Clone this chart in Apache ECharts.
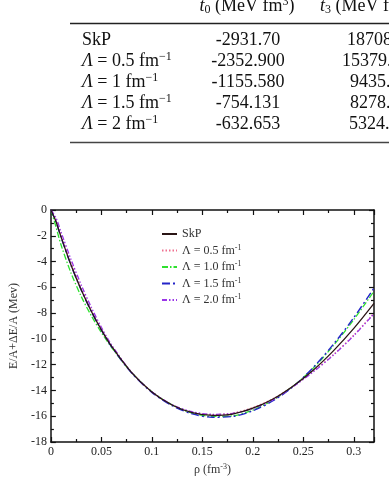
<!DOCTYPE html>
<html lang="en">
<head>
    <meta charset="UTF-8">
    <title>SkP energy per particle</title>
    <style>
        html, body { margin: 0; padding: 0; background: #fff; }
        #main { width: 389px; height: 477px; }
    </style>
</head>
<body>
<div id="main"></div>
<script src="https://cdn.jsdelivr.net/npm/echarts@6/dist/echarts.min.js"></script>
<script>
    // table values
    const rowLabels = ['SkP', '0.5', '1', '1.5', '2'];
    const t0Vals = ['-2931.70', '-2352.900', '-1155.580', '-754.131', '-632.653'];
    const t3Vals = ['18708.97', '15379.20', '9435.20', '8278.20', '5324.80'];

    // density grid (fm^-3)
    const rho = [0, 0.005, 0.01, 0.02, 0.03, 0.04, 0.05, 0.06, 0.08, 0.10, 0.12, 0.14, 0.16, 0.18, 0.20, 0.22, 0.24, 0.26, 0.28, 0.30, 0.32];

    // E/A + dE/A (MeV)
    const skp   = [0, -0.89, -2.08, -4.28, -6.19, -7.85, -9.30, -10.57, -12.62, -14.12, -15.13, -15.73, -15.94, -15.83, -15.38, -14.66, -13.65, -12.41, -10.91, -9.19, -7.25];
    const lam05 = [0, -0.80, -1.95, -4.10, -6.05, -7.75, -9.22, -10.52, -12.60, -14.10, -15.12, -15.70, -15.88, -15.76, -15.33, -14.64, -13.68, -12.50, -11.20, -9.70, -8.00];
    const lam10 = [0, -1.30, -2.70, -4.90, -6.70, -8.20, -9.50, -10.65, -12.62, -14.10, -15.12, -15.76, -16.02, -15.97, -15.52, -14.75, -13.66, -12.25, -10.50, -8.50, -6.30];
    const lam15 = [0, -0.90, -2.10, -4.30, -6.20, -7.87, -9.32, -10.60, -12.65, -14.15, -15.18, -15.82, -16.08, -16.02, -15.58, -14.80, -13.70, -12.20, -10.40, -8.35, -6.05];
    const lam20 = [0, -0.60, -1.70, -3.85, -5.80, -7.55, -9.10, -10.45, -12.60, -14.10, -15.10, -15.65, -15.85, -15.78, -15.40, -14.72, -13.70, -12.55, -11.25, -9.75, -8.05];

    const serif = "'Liberation Serif', 'DejaVu Serif', serif";
    const pairs = ys => rho.map((x, i) => [x, ys[i]]);

    const chart = echarts.init(document.getElementById('main'), null, { renderer: 'canvas' });

    // table drawn as graphic text
    const tableRich = {
        it: { fontFamily: serif, fontSize: 18, fontStyle: 'italic', fill: '#111' },
        n: { fontFamily: serif, fontSize: 18, fill: '#111' },
        sub: { fontFamily: serif, fontSize: 12, fill: '#111', padding: [8, 0, 0, 0] },
        sup: { fontFamily: serif, fontSize: 12, fill: '#111', padding: [0, 0, 8, 0] }
    };
    const rowY = [40, 61, 82, 103, 124];
    const t3X = [347, 342, 350, 350, 349];
    const graphics = [
        { type: 'line', shape: { x1: 70, y1: 23.5, x2: 389, y2: 23.5 }, style: { stroke: '#222', lineWidth: 1.5 } },
        { type: 'line', shape: { x1: 70, y1: 142.5, x2: 389, y2: 142.5 }, style: { stroke: '#444', lineWidth: 1.5 } },
        { type: 'text', x: 247, y: 6, style: { text: '{it|t}{sub|0}{n| (MeV fm}{sup|3}{n|)}', rich: tableRich, align: 'center', verticalAlign: 'middle' } },
        { type: 'text', x: 320, y: 6, style: { text: '{it|t}{sub|3}{n| (MeV fm}{sup|3}{n|)}', rich: tableRich, align: 'left', verticalAlign: 'middle' } }
    ];
    rowLabels.forEach((lab, i) => {
        const txt = i === 0 ? '{n|SkP}' : '{it|Λ}{n| = ' + lab + ' fm}{sup|−1}';
        graphics.push({ type: 'text', x: 82, y: rowY[i], style: { text: txt, rich: tableRich, align: 'left', verticalAlign: 'middle' } });
        graphics.push({ type: 'text', x: 248, y: rowY[i], style: { text: t0Vals[i], font: '18px ' + serif, fill: '#111', align: 'center', verticalAlign: 'middle' } });
        graphics.push({ type: 'text', x: t3X[i], y: rowY[i], style: { text: t3Vals[i], font: '18px ' + serif, fill: '#111', align: 'left', verticalAlign: 'middle' } });
    });

    const axisCommon = {
        type: 'value',
        axisLine: { show: true, onZero: false, lineStyle: { color: '#111', width: 1.5 } },
        axisTick: { show: true, inside: true, length: 5, lineStyle: { color: '#111', width: 1.2 } },
        minorTick: { show: true, splitNumber: 2, length: 3, lineStyle: { color: '#111', width: 1.2 } },
        splitLine: { show: false }
    };

    const option = {
        animation: false,
        backgroundColor: '#fff',
        graphic: graphics,
        grid: { left: 41, top: 210, width: 333, height: 233 },
        legend: {
            orient: 'vertical',
            left: 156,
            top: 223,
            itemWidth: 15,
            itemHeight: 10,
            itemGap: 3.5,
            itemStyle: { opacity: 0 },
            data: ['SkP', 'Λ = 0.5 fm', 'Λ = 1.0 fm', 'Λ = 1.5 fm', 'Λ = 2.0 fm'],
            formatter: name => name === 'SkP' ? '{n|SkP}' : '{n|' + name + '}{s|-1}',
            textStyle: {
                fontFamily: serif,
                fontSize: 12,
                color: '#333',
                rich: {
                    n: { fontFamily: serif, fontSize: 12, color: '#333' },
                    s: { fontFamily: serif, fontSize: 8, color: '#333', padding: [0, 0, 6, 0] }
                }
            }
        },
        xAxis: [
            Object.assign({}, axisCommon, {
                min: 0, max: 0.32, interval: 0.05,
                position: 'bottom',
                name: '{n|ρ (fm}{s|-3}{n|)}',
                nameLocation: 'middle',
                nameGap: 21,
                nameTextStyle: {
                    rich: {
                        n: { fontFamily: serif, fontSize: 12, color: '#333' },
                        s: { fontFamily: serif, fontSize: 8, color: '#333', padding: [0, 0, 6, 0] }
                    }
                },
                axisLabel: { fontFamily: serif, fontSize: 12, color: '#222', margin: 4, showMaxLabel: false }
            }),
            Object.assign({}, axisCommon, {
                min: 0, max: 0.32, interval: 0.05,
                position: 'top',
                axisLabel: { show: false }
            })
        ],
        yAxis: [
            Object.assign({}, axisCommon, {
                min: -18, max: 0, interval: 2,
                position: 'left',
                name: 'E/A+ΔE/A (Mev)',
                nameLocation: 'middle',
                nameGap: 26,
                nameTextStyle: { fontFamily: serif, fontSize: 12, color: '#333' },
                axisLabel: { fontFamily: serif, fontSize: 12, color: '#222', margin: 4 }
            }),
            Object.assign({}, axisCommon, {
                min: -18, max: 0, interval: 2,
                position: 'right',
                axisLabel: { show: false }
            })
        ],
        series: [
            { name: 'SkP', type: 'line', data: pairs(skp), smooth: 0.3, symbol: 'none', lineStyle: { color: '#2a1515', width: 1.3, type: 'solid' }, itemStyle: { color: '#2a1515' }, z: 5 },
            { name: 'Λ = 0.5 fm', type: 'line', data: pairs(lam05), smooth: 0.3, symbol: 'none', lineStyle: { color: '#f07090', width: 1.3, type: [1.5, 2] }, itemStyle: { color: '#f07090' } },
            { name: 'Λ = 1.0 fm', type: 'line', data: pairs(lam10), smooth: 0.3, symbol: 'none', lineStyle: { color: '#2ee02e', width: 1.3, type: [6, 2, 1.5, 2] }, itemStyle: { color: '#2ee02e' } },
            { name: 'Λ = 1.5 fm', type: 'line', data: pairs(lam15), smooth: 0.3, symbol: 'none', lineStyle: { color: '#2424c8', width: 1.4, type: [8, 3, 2, 3] }, itemStyle: { color: '#2424c8' } },
            { name: 'Λ = 2.0 fm', type: 'line', data: pairs(lam20), smooth: 0.3, symbol: 'none', lineStyle: { color: '#9a35e8', width: 1.3, type: [5, 2, 1.5, 2, 1.5, 2] }, itemStyle: { color: '#9a35e8' } }
        ]
    };
    chart.setOption(option);
</script>
</body>
</html>
